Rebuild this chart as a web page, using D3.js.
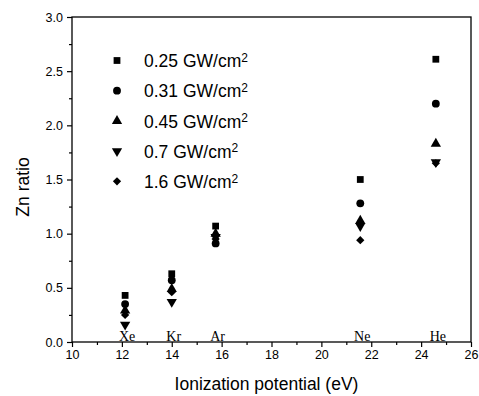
<!DOCTYPE html>
<html>
<head>
<meta charset="utf-8">
<script src="https://cdn.jsdelivr.net/npm/d3@7"></script>
<style>
  html, body { margin: 0; padding: 0; background: #fff; }
  svg { display: block; font-family: "Liberation Sans", Arial, sans-serif; }
  .axis text { fill: #000; font-size: 12.5px; font-family: "Liberation Sans", Arial, sans-serif; }
  .axis line { stroke: #000; stroke-width: 1.2; }
</style>
</head>
<body>
<div id="chart"></div>
<script>
// Gas ionization potentials (eV) and labels
const gases = ['Xe', 'Kr', 'Ar', 'Ne', 'He'];
const potentials = [12.13, 14.0, 15.76, 21.56, 24.59];

// Zn ratio per intensity series, one value per gas
const seriesNames = ['0.25 GW/cm', '0.31 GW/cm', '0.45 GW/cm', '0.7 GW/cm', '1.6 GW/cm'];
const s025 = [0.43, 0.63, 1.07, 1.50, 2.61];
const s031 = [0.35, 0.57, 0.91, 1.28, 2.20];
const s045 = [0.29, 0.49, 1.00, 1.12, 1.83];
const s07  = [0.16, 0.37, 0.97, 1.07, 1.66];
const s16  = [0.25, 0.46, 0.95, 0.94, 1.65];
const seriesValues = [s025, s031, s045, s07, s16];
// square, circle, up triangle, down triangle, diamond (square turned 45deg)
const seriesSymbols = [d3.symbolSquare, d3.symbolCircle, d3.symbolTriangle, d3.symbolTriangle, d3.symbolSquare];
const seriesRotate = [0, 0, 0, 180, 45];
const seriesSize = [46, 48, 46, 46, 34];

const xTicks = [10, 12, 14, 16, 18, 20, 22, 24, 26];
const yTicks = [0, 0.5, 1.0, 1.5, 2.0, 2.5, 3.0];

const W = 479, H = 396;
const M = { left: 72, right: 8, top: 17, bottom: 54 };

const svg = d3.select('#chart').append('svg')
  .attr('width', W).attr('height', H);

const x = d3.scaleLinear().domain([10, 26]).range([M.left, W - M.right]);
const y = d3.scaleLinear().domain([0, 3]).range([H - M.bottom, M.top]);

// Minor ticks
svg.append('g').attr('class', 'axis')
  .attr('transform', `translate(0,${y(0)})`)
  .call(d3.axisBottom(x).tickValues(d3.range(11, 26, 2)).tickSize(3).tickFormat(''))
  .call(g => g.select('.domain').remove());
svg.append('g').attr('class', 'axis')
  .attr('transform', `translate(${x(10)},0)`)
  .call(d3.axisLeft(y).tickValues(d3.range(0.25, 3, 0.5)).tickSize(3).tickFormat(''))
  .call(g => g.select('.domain').remove());

// Major ticks + labels
svg.append('g').attr('class', 'axis')
  .attr('transform', `translate(0,${y(0)})`)
  .call(d3.axisBottom(x).tickValues(xTicks).tickSize(5).tickPadding(3).tickFormat(d3.format('d')))
  .call(g => g.select('.domain').remove());
svg.append('g').attr('class', 'axis')
  .attr('transform', `translate(${x(10)},0)`)
  .call(d3.axisLeft(y).tickValues(yTicks).tickSize(5).tickPadding(4).tickFormat(d3.format('.1f')))
  .call(g => g.select('.domain').remove());

// Frame
svg.append('rect')
  .attr('x', x(10)).attr('y', y(3))
  .attr('width', x(26) - x(10)).attr('height', y(0) - y(3))
  .attr('fill', 'none').attr('stroke', '#000').attr('stroke-width', 1.3);

// Axis labels
svg.append('text').attr('x', (x(10) + x(26)) / 2 - 5).attr('y', 390)
  .attr('text-anchor', 'middle').attr('font-size', 17.5).text('Ionization potential (eV)');
svg.append('text').attr('transform', `translate(29,187) rotate(-90)`)
  .attr('text-anchor', 'middle').attr('font-size', 17.5).text('Zn ratio');

// Gas labels just above the x axis
gases.forEach((g, i) => {
  svg.append('text').attr('x', x(potentials[i]) + 2).attr('y', y(0) - 1)
    .attr('text-anchor', 'middle')
    .attr('font-family', '"Liberation Serif", "Times New Roman", serif')
    .attr('font-size', 14).text(g);
});

// Data points
function marker(sel, i) {
  return sel.attr('d', d3.symbol().type(seriesSymbols[i]).size(seriesSize[i]))
    .attr('fill', '#000');
}
seriesValues.forEach((vals, i) => {
  svg.append('g').selectAll('path').data(vals).join('path')
    .call(s => marker(s, i))
    .attr('transform', (d, j) => `translate(${x(potentials[j])},${y(d)}) rotate(${seriesRotate[i]})`);
});

// Legend
const legend = svg.append('g');
seriesNames.forEach((name, i) => {
  const ly = 60.5 + i * 30.2;
  legend.append('path').call(s => marker(s, i))
    .attr('transform', `translate(117,${ly}) rotate(${seriesRotate[i]})`);
  const t = legend.append('text').attr('x', 144).attr('y', ly).attr('dy', '0.38em')
    .attr('font-size', 17.5).text(name);
  t.append('tspan').attr('dy', '-0.45em').attr('font-size', 12).text('2');
});
</script>
</body>
</html>
